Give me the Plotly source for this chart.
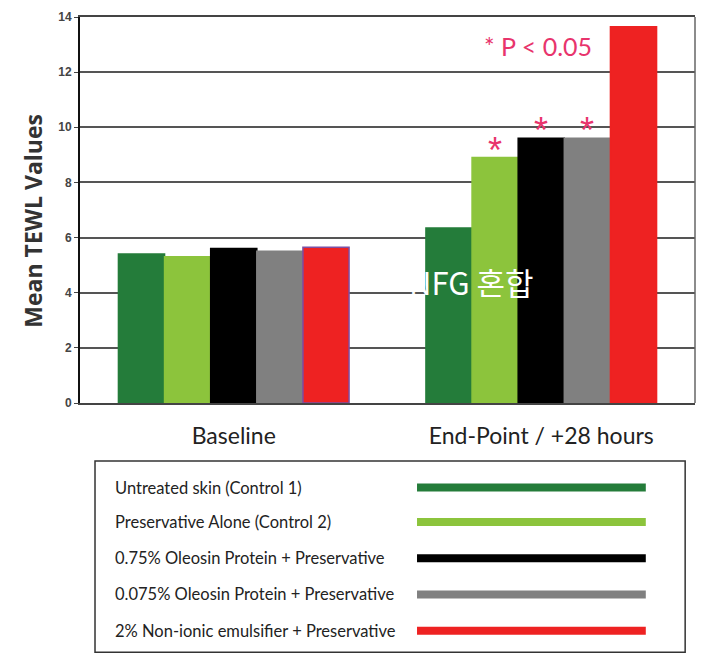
import plotly.graph_objects as go

categories = ["Baseline", "End-Point / +28 hours"]
series_names = [
    "Untreated skin (Control 1)",
    "Preservative Alone (Control 2)",
    "0.75% Oleosin Protein + Preservative",
    "0.075% Oleosin Protein + Preservative",
    "2% Non-ionic emulsifier + Preservative",
]
values = [
    [5.4, 6.35],
    [5.3, 8.9],
    [5.6, 9.6],
    [5.5, 9.6],
    [5.65, 13.65],
]
significant = [
    [False, False],
    [False, True],
    [False, True],
    [False, True],
    [False, False],
]
colors = ["#247c3a", "#8cc43c", "#000000", "#808080", "#ee2222"]
outline_colors = [
    [colors[0]] * 2,
    [colors[1]] * 2,
    [colors[2]] * 2,
    [colors[3]] * 2,
    ["#7d4fa3", colors[4]],
]
y_ticks = [0, 2, 4, 6, 8, 10, 12, 14]
pink = "#e8346c"
bargap = 0.25

fig = go.Figure()
for name, vals, col, oc in zip(series_names, values, colors, outline_colors):
    fig.add_trace(go.Bar(
        name=name, x=categories, y=vals,
        marker=dict(color=col, line=dict(color=oc, width=1.5)),
        showlegend=False,
    ))

# significance asterisks placed over the bars (grouped-bar offsets on the category axis)
n = len(series_names)
bw = (1 - bargap) / n
for i, (vals, sig) in enumerate(zip(values, significant)):
    for ci, (v, s) in enumerate(zip(vals, sig)):
        if s:
            fig.add_annotation(x=ci + (i - (n - 1) / 2) * bw, y=v, xref="x", yref="y",
                               text="*", showarrow=False, xanchor="center", yanchor="bottom",
                               yshift=-15, font=dict(size=36, color=pink, family="Liberation Sans"))

fig.update_layout(
    barmode="group", bargap=bargap, bargroupgap=0,
    width=703, height=651,
    margin=dict(l=72, r=16, t=2, b=256),
    plot_bgcolor="white", paper_bgcolor="white",
    font=dict(family="Lato", color="#222"),
)
fig.update_yaxes(
    range=[0, 14], tickvals=y_ticks, showgrid=True, gridcolor="#555", gridwidth=1.5,
    ticks="outside", ticklen=4, tickcolor="#444", showline=True, linecolor="#111", linewidth=2,
    tickfont=dict(size=12, family="Liberation Sans", color="#444", weight="bold"),
    ticklabeloverflow="allow",
    zeroline=False,
)
fig.update_xaxes(
    showline=True, linecolor="#444", linewidth=1.5, mirror=True,
    tickfont=dict(size=23, family="Lato", color="#222"), ticklabelstandoff=12,
)

# y-axis title
fig.add_annotation(text="<b>Mean TEWL Values</b>", xref="paper", yref="paper", x=-0.076, y=0.473,
                   xanchor="center", yanchor="middle", textangle=-90, showarrow=False,
                   font=dict(size=23, family="Open Sans", color="#333"))

# right border line
fig.add_shape(type="line", xref="paper", yref="paper", x0=1, x1=1, y0=0, y1=1,
              line=dict(color="#666", width=1.5))

# significance note
fig.add_annotation(text="* P < 0.05", xref="paper", yref="paper", x=0.745, y=0.924,
                   xanchor="center", yanchor="middle",
                   showarrow=False, font=dict(size=25, color=pink, family="Lato"))

# watermark
fig.add_annotation(text="NFG 혼합", xref="paper", yref="paper", x=0.637, y=0.314,
                   xanchor="center", yanchor="middle",
                   showarrow=False, font=dict(size=31, color="white", family="Noto Sans CJK KR"))

# legend box
fig.add_shape(type="rect", xref="paper", yref="paper", x0=0.0244, x1=0.984, y0=-0.646, y1=-0.150,
              line=dict(color="#333", width=1.5), fillcolor="white")
row_y = [-0.219, -0.308, -0.402, -0.496, -0.590]
for name, col, yy in zip(series_names, colors, row_y):
    fig.add_annotation(text=name, xref="paper", yref="paper", x=0.0537, y=yy,
                       xanchor="left", yanchor="middle",
                       showarrow=False, font=dict(size=16.5, color="#222", family="Lato"))
    fig.add_shape(type="line", xref="paper", yref="paper", x0=0.548, x1=0.92, y0=yy, y1=yy,
                  line=dict(color=col, width=8))

fig.write_html("out.html")
